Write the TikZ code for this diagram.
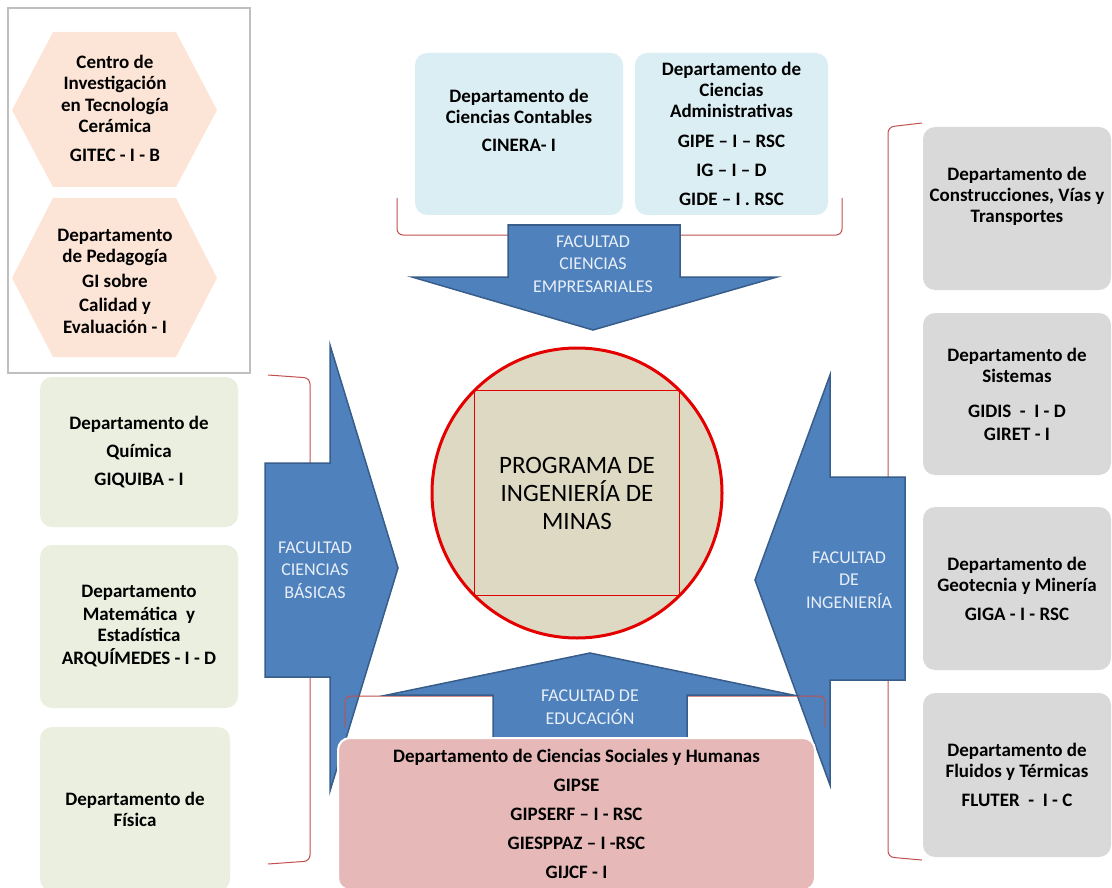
\documentclass[tikz,border=0pt]{standalone}
\usepackage{fontspec}
\setmainfont{Carlito}
\usetikzlibrary{positioning}
\definecolor{facblue}{HTML}{4F81BD}
\definecolor{facline}{HTML}{385D8A}
\definecolor{factext}{HTML}{E8EFF8}
\definecolor{bracered}{HTML}{C0504D}
\definecolor{hexpeach}{HTML}{FCE4D6}
\definecolor{empblue}{HTML}{DAEEF3}
\definecolor{basgreen}{HTML}{EBEFDF}
\definecolor{inggray}{HTML}{D9D9D9}
\definecolor{edupink}{HTML}{E6B9B8}
\definecolor{progfill}{HTML}{DDD9C3}

\begin{document}
\begin{tikzpicture}[x=1pt,y=-1pt,
  deptbox/.style={rounded corners=12pt,inner sep=2pt,align=center,
    font=\bfseries\fontsize{19}{21}\selectfont},
  hextxt/.style={align=center,inner sep=0pt,font=\bfseries\fontsize{19}{21.5}\selectfont},
  facarrow/.style={fill=facblue,draw=facline,line width=1.5pt,line join=miter},
  factxt/.style={align=center,text=factext,font=\fontsize{18}{22.5}\selectfont},
  brace/.style={draw=bracered,line width=1pt,rounded corners=6pt}]
\useasboundingbox (0,0) rectangle (1112,888);

\draw[draw=gray!50,line width=2pt] (8,8) rectangle (250,373);
\fill[hexpeach] (53,32) -- (176,32) -- (217,110) -- (176,187) -- (53,187) -- (12,110) -- cycle;
\fill[hexpeach] (53,198) -- (176,198) -- (217,278) -- (176,357) -- (53,357) -- (12,278) -- cycle;
\node[hextxt] (gitec) at (115,108) {Centro de\\Investigación\\en Tecnología\\Cerámica\\[7pt]GITEC - I - B};
\node[hextxt] (pedag) at (115,281) {Departamento\\de Pedagogía\\[3pt]GI sobre\\[3pt]Calidad y\\Evaluación - I};

\node[deptbox,fill=empblue,minimum width=208pt,minimum height=162pt] (contab) at (519,134)
  {Departamento de\\Ciencias Contables\\[7pt]CINERA- I\\[7pt]\mbox{}};
\node[deptbox,fill=empblue,minimum width=193pt,minimum height=162pt] (admin) at (731.5,134)
  {Departamento de\\Ciencias\\Administrativas\\[9pt]GIPE – I – RSC\\[8pt]IG – I – D\\[8pt]GIDE – I . RSC};
\draw[brace] (397,198) -- (397,235) -- (842,235) -- (842,198);
\draw[facarrow] (508,225) -- (680,225) -- (680,277) -- (777,277) -- (593,330) -- (412,277) -- (508,277) -- cycle;
\node[factxt] (empres) at (593,264) {FACULTAD\\CIENCIAS\\EMPRESARIALES};

\draw[brace] (922,123) -- (888,127) -- (888,857) -- (922,860);
\node[deptbox,fill=inggray,minimum width=188pt,minimum height=163pt] (constr) at (1017,208.5)
  {Departamento de\\Construcciones, Vías y\\Transportes\\[7pt]\mbox{}};
\node[deptbox,fill=inggray,minimum width=188pt,minimum height=162pt] (sistem) at (1017,394)
  {Departamento de\\Sistemas\\[14pt]GIDIS~ - ~I - D\\[2pt]GIRET - I};
\node[deptbox,fill=inggray,minimum width=188pt,minimum height=163pt] (geotec) at (1017,588.5)
  {Departamento de\\Geotecnia y Minería\\[8pt]GIGA - I - RSC};
\node[deptbox,fill=inggray,minimum width=188pt,minimum height=164pt] (fluter) at (1017,775)
  {Departamento de\\Fluidos y Térmicas\\[8pt]FLUTER~ - ~I - C};

\draw[brace] (268,375) -- (310,378) -- (310,861) -- (268,864);
\node[deptbox,fill=basgreen,minimum width=198pt,minimum height=150pt] (quimic) at (139,452)
  {Departamento de\\[7pt]Química\\[7pt]GIQUIBA - I};
\node[deptbox,fill=basgreen,minimum width=198pt,minimum height=163pt] (matema) at (139,626.5)
  {Departamento\\[2pt]Matemática~ y\\Estadística\\[2pt]ARQUÍMEDES - I - D};
\node[deptbox,fill=basgreen,minimum width=190pt,minimum height=164pt] (fisica) at (135,809)
  {Departamento de\\Física};

\draw[facarrow] (265,463) -- (330,463) -- (330,345) -- (398,568) -- (330,791) -- (330,677) -- (265,677) -- cycle;
\node[factxt] (basic) at (315,570) {FACULTAD\\CIENCIAS\\BÁSICAS};
\draw[facarrow] (905,477) -- (830,477) -- (830,375) -- (755,580) -- (830,785) -- (830,680) -- (905,680) -- cycle;
\node[factxt] (ingen) at (849,580) {FACULTAD\\DE\\INGENIERÍA};

\draw[brace] (345,727) -- (345,696) -- (825,696) -- (825,727);
\draw[facarrow] (590,653) -- (793,695) -- (687,695) -- (687,745) -- (493,745) -- (493,695) -- (387,695) -- cycle;
\node[factxt] (educ) at (590,707) {FACULTAD DE\\EDUCACIÓN};
\node[deptbox,fill=edupink,draw=white,line width=2pt,minimum width=477pt,minimum height=152pt] (social) at (576.5,814)
  {Departamento de Ciencias Sociales y Humanas\\[8pt]GIPSE\\[8pt]GIPSERF – I - RSC\\[8pt]GIESPPAZ – I -RSC\\[8pt]GIJCF - I};

\node[circle,fill=progfill,draw=red!90!black,line width=3pt,outer sep=0pt,minimum size=290pt,
  align=center,font=\fontsize{25}{28}\selectfont] (prog) at (577,493) {PROGRAMA DE\\INGENIERÍA DE\\MINAS};
\draw[red!90!black,line width=1pt] (prog.north west) rectangle (prog.south east);
\end{tikzpicture}
\end{document}
